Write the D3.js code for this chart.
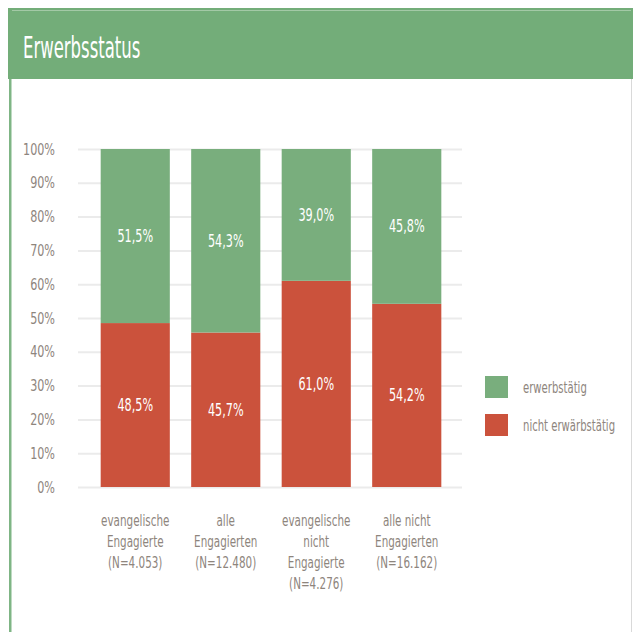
<!DOCTYPE html>
<html>
<head>
<meta charset="utf-8">
<script src="https://cdn.jsdelivr.net/npm/d3@7"></script>
<style>
  html, body { margin: 0; padding: 0; background: #fff; }
  svg text { font-family: "DejaVu Sans", sans-serif; }
</style>
</head>
<body>
<div id="chart"></div>
<script>
// chart data
const categories = [
  ['evangelische', 'Engagierte', '(N=4.053)'],
  ['alle', 'Engagierten', '(N=12.480)'],
  ['evangelische', 'nicht', 'Engagierte', '(N=4.276)'],
  ['alle nicht', 'Engagierten', '(N=16.162)']
];
const erwerbstaetig = [51.5, 54.3, 39.0, 45.8];
const nichtErwerbstaetig = [48.5, 45.7, 61.0, 54.2];
const seriesNames = ['erwerbstätig', 'nicht erwärbstätig'];
const yTicks = [0, 10, 20, 30, 40, 50, 60, 70, 80, 90, 100];

const width = 633;
const height = 632;
const green = '#79ae7d';
const red = '#cb523c';
const textGray = '#8e857d';

// squeeze text horizontally (around its x) to get the narrow look of the original font
const condense = (sel, k) => sel.each(function() {
  const x0 = +this.getAttribute('x') || 0;
  this.setAttribute('transform', `translate(${x0},0) scale(${k},1) translate(${-x0},0)`);
});

const svg = d3.select('#chart')
  .append('svg')
  .attr('width', width)
  .attr('height', height);

// panel frame
svg.append('rect')
  .attr('x', 8).attr('y', 8)
  .attr('width', width - 8).attr('height', 71)
  .attr('fill', '#73ad79');
svg.append('line')
  .attr('x1', 12).attr('x2', width - 2)
  .attr('y1', 10.5).attr('y2', 10.5)
  .attr('stroke', '#a3c9a6').attr('stroke-width', 1);
svg.append('rect')
  .attr('x', 9).attr('y', 79)
  .attr('width', 2.5).attr('height', height - 79)
  .attr('fill', '#7fb585');
svg.append('line')
  .attr('x1', 631.5).attr('x2', 631.5)
  .attr('y1', 79).attr('y2', height)
  .attr('stroke', '#d9d9d9').attr('stroke-width', 1);

svg.append('text')
  .attr('x', 23)
  .attr('y', 58)
  .attr('fill', '#fff')
  .style('font-size', '30px')
  .text('Erwerbsstatus')
  .call(condense, 0.55);

// scales
const x = d3.scaleBand()
  .domain(d3.range(categories.length))
  .range([90, 452])
  .paddingInner(0.236)
  .paddingOuter(0.118);

const y = d3.scaleLinear()
  .domain([0, 100])
  .range([487, 149]);

// gridlines + y labels
const yAxis = svg.append('g')
  .attr('transform', 'translate(78,0)')
  .call(d3.axisLeft(y).tickValues(yTicks).tickSize(-384).tickFormat(d => d + '%'));
yAxis.select('.domain').remove();
yAxis.selectAll('.tick line').attr('stroke', '#ebebeb').attr('stroke-width', 2);
yAxis.selectAll('.tick text')
  .attr('x', -23)
  .attr('fill', textGray)
  .style('font-size', '16px')
  .call(condense, 0.7);

// bars
const stacked = categories.map((c, i) => ({
  i,
  bottom: nichtErwerbstaetig[i],
  top: erwerbstaetig[i]
}));

const bars = svg.append('g');
bars.selectAll('rect.red')
  .data(stacked)
  .join('rect')
  .attr('class', 'red')
  .attr('x', d => x(d.i))
  .attr('width', x.bandwidth())
  .attr('y', d => y(d.bottom))
  .attr('height', d => y(0) - y(d.bottom))
  .attr('fill', red);

bars.selectAll('rect.green')
  .data(stacked)
  .join('rect')
  .attr('class', 'green')
  .attr('x', d => x(d.i))
  .attr('width', x.bandwidth())
  .attr('y', d => y(d.bottom + d.top))
  .attr('height', d => y(d.bottom) - y(d.bottom + d.top))
  .attr('fill', green);

const fmt = v => v.toFixed(1).replace('.', ',') + '%';

bars.selectAll('text.redlbl')
  .data(stacked)
  .join('text')
  .attr('class', 'redlbl')
  .attr('x', d => x(d.i) + x.bandwidth() / 2)
  .attr('y', d => y(d.bottom / 2))
  .attr('dy', '0.35em')
  .attr('text-anchor', 'middle')
  .attr('fill', '#fff')
  .style('font-size', '17px')
  .text(d => fmt(d.bottom))
  .call(condense, 0.66);

bars.selectAll('text.greenlbl')
  .data(stacked)
  .join('text')
  .attr('class', 'greenlbl')
  .attr('x', d => x(d.i) + x.bandwidth() / 2)
  .attr('y', d => y(d.bottom + d.top / 2))
  .attr('dy', '0.35em')
  .attr('text-anchor', 'middle')
  .attr('fill', '#fff')
  .style('font-size', '17px')
  .text(d => fmt(d.top))
  .call(condense, 0.66);

// category labels, one text per line
const catLines = categories.flatMap((lines, i) => lines.map((t, j) => ({ i, j, t })));
svg.append('g')
  .selectAll('text')
  .data(catLines)
  .join('text')
  .attr('x', d => x(d.i) + x.bandwidth() / 2)
  .attr('y', d => 526 + d.j * 21)
  .attr('text-anchor', 'middle')
  .attr('fill', textGray)
  .style('font-size', '16px')
  .text(d => d.t)
  .call(condense, 0.65);

// legend
const legend = svg.append('g').attr('transform', 'translate(485,376)');
const legendItems = legend.selectAll('g')
  .data(seriesNames)
  .join('g')
  .attr('transform', (d, i) => `translate(0,${i * 38})`);
legendItems.append('rect')
  .attr('width', 23).attr('height', 22)
  .attr('fill', (d, i) => i === 0 ? green : red);
legendItems.append('text')
  .attr('x', 38).attr('y', 11)
  .attr('dy', '0.35em')
  .attr('fill', textGray)
  .style('font-size', '16px')
  .text(d => d)
  .call(condense, 0.63);
</script>
</body>
</html>
